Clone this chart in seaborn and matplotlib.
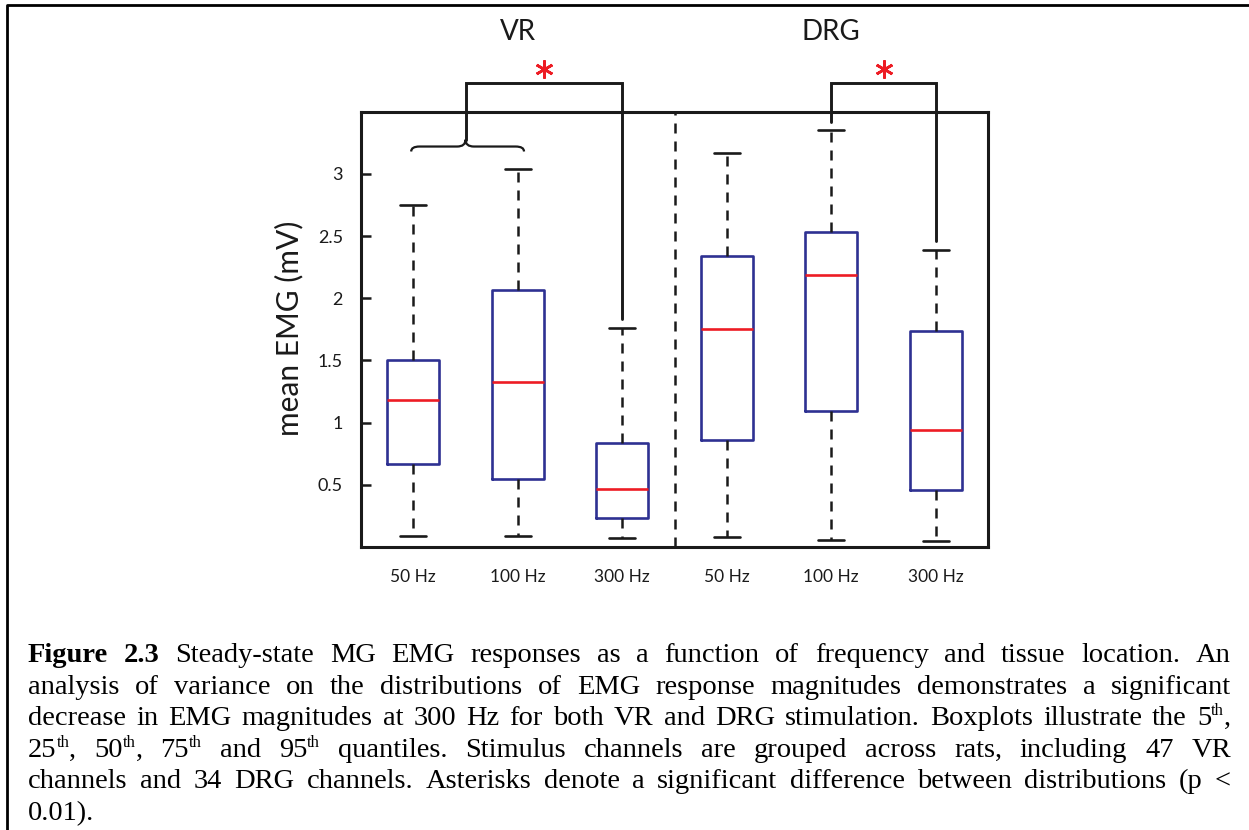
import matplotlib
matplotlib.use("Agg")
import numpy as np
import pandas as pd
import matplotlib.pyplot as plt
import seaborn as sns
from matplotlib.path import Path
from matplotlib.patches import PathPatch
from matplotlib.lines import Line2D

# ---------------- data ----------------
tissue = ["VR", "VR", "VR", "DRG", "DRG", "DRG"]
freq = ["50 Hz", "100 Hz", "300 Hz", "50 Hz", "100 Hz", "300 Hz"]
q05 = [0.09, 0.09, 0.07, 0.08, 0.055, 0.05]
q25 = [0.67, 0.55, 0.23, 0.86, 1.09, 0.46]
q50 = [1.18, 1.33, 0.47, 1.75, 2.19, 0.94]
q75 = [1.50, 2.07, 0.84, 2.34, 2.53, 1.74]
q95 = [2.75, 3.04, 1.76, 3.17, 3.35, 2.39]
yticks = [0.5, 1, 1.5, 2, 2.5, 3]

# significance comparisons: left arm (indices) vs right arm (index)
sig_left = [[0, 1], [4]]
sig_right = [2, 5]
bracket_y = 3.73
star_y = 3.84
brace_y = 3.22
title_y = 4.14

caption_lines = [
    "**Figure** **2.3** Steady-state MG EMG responses as a function of frequency and tissue location. An",
    "analysis of variance on the distributions of EMG response magnitudes demonstrates a significant",
    "decrease in EMG magnitudes at 300 Hz for both VR and DRG stimulation. Boxplots illustrate the 5{th},",
    "25{th}, 50{th}, 75{th} and 95{th} quantiles.  Stimulus channels are grouped across rats, including 47 VR",
    "channels and 34 DRG channels. Asterisks denote a significant difference between distributions (p <",
    "0.01).",
]

conditions = [f"{t} {f}" for t, f in zip(tissue, freq)]
rows = []
for c, a, b, m, d, e in zip(conditions, q05, q25, q50, q75, q95):
    for v in (a, b, m, d, e):
        rows.append({"condition": c, "emg": v})
df = pd.DataFrame(rows)

# ---------------- style ----------------
BLUE = "#2e3192"
RED = "#ed1c24"
INK = "#1a1a1a"
sns.set_theme(style="white")
plt.rcParams["font.family"] = ["Lato", "DejaVu Sans"]

W, H = 1249, 830
fig = plt.figure(figsize=(W / 100, H / 100), dpi=100)
ax = fig.add_axes([361 / W, 1 - 547 / H, (988 - 361) / W, (547 - 111.7) / H])

dash = (0, (4, 3.2))
sns.boxplot(
    data=df, x="condition", y="emg", order=conditions, ax=ax,
    whis=(0, 100), width=0.5, fill=False, color=BLUE, linewidth=1.8,
    showfliers=False,
    boxprops=dict(color=BLUE, linewidth=1.9),
    medianprops=dict(color=RED, linewidth=1.9),
    whiskerprops=dict(color=INK, linewidth=1.8, linestyle=dash),
    capprops=dict(color=INK, linewidth=1.9),
)

ax.set_xlim(-0.5, len(conditions) - 0.5)
ax.set_ylim(0, 3.5)
ax.set_yticks(yticks)
ax.set_yticklabels([f"{v:g}" for v in yticks])
ax.set_xticks(range(len(conditions)))
ax.set_xticklabels(freq)
ax.set_xlabel("")
ax.set_ylabel("")
ax.tick_params(axis="y", direction="in", length=7, width=1.8, pad=13,
               labelsize=13, colors=INK, left=True)
ax.tick_params(axis="x", length=0, pad=16, labelsize=12.5, colors=INK)
for sp in ax.spines.values():
    sp.set_visible(True)
    sp.set_color(INK)
    sp.set_linewidth(2.2)

# separator between tissue groups
ax.axvline(2.5, color=INK, lw=1.8, ls=dash, zorder=1)

# group titles
for g in ["VR", "DRG"]:
    idx = [i for i, t in enumerate(tissue) if t == g]
    ax.text(np.mean(idx), title_y, g, ha="center", va="center",
            fontsize=20, color=INK, clip_on=False)

# significance brackets
gap = 0.07
for left, right in zip(sig_left, sig_right):
    xl = float(np.mean(left))
    if len(left) > 1:
        a, b = min(left) - 0.02, max(left) + 0.06
        h, e, r = 0.055, 0.04, 0.08
        verts = [(a, brace_y - e), (a, brace_y), (a + r, brace_y),
                 (xl - r, brace_y), (xl, brace_y), (xl, brace_y + h),
                 (xl, brace_y), (xl + r, brace_y),
                 (b - r, brace_y), (b, brace_y), (b, brace_y - e)]
        codes = [Path.MOVETO, Path.CURVE3, Path.CURVE3,
                 Path.LINETO, Path.CURVE3, Path.CURVE3,
                 Path.CURVE3, Path.CURVE3,
                 Path.LINETO, Path.CURVE3, Path.CURVE3]
        ax.add_patch(PathPatch(Path(verts, codes), fill=False, lw=1.6,
                               edgecolor=INK, clip_on=False))
        yl = brace_y + h
    else:
        yl = q95[left[0]] + gap
    yr = q95[right] + gap
    ax.plot([xl, xl, right, right], [yl, bracket_y, bracket_y, yr],
            color=INK, lw=2.1, clip_on=False, solid_joinstyle="miter")
    ax.plot([(xl + right) / 2], [star_y], marker=(6, 2, 0), ms=13, mew=1.9,
            color=RED, clip_on=False)

# y label
fig.text(289 / W, 1 - 328 / H, "mean EMG (mV)", rotation=90, ha="center",
         va="center", fontsize=21.5, color=INK)

# figure frame (top + left)
fig.add_artist(Line2D([7 / W, 7 / W, 1.0], [0.0, 1 - 5 / H, 1 - 5 / H],
                      transform=fig.transFigure, color="black", lw=2.0))

# ---------------- justified caption ----------------
CAP_FS = 20.5
SERIF = ["Liberation Serif", "DejaVu Serif"]
renderer = fig.canvas.get_renderer()
x_left, x_right = 28.0, 1231.0
base0, pitch = 662.0, 31.6


def parse_word(w):
    segs = []
    bold = False
    i = 0
    buf = ""
    while i < len(w):
        if w.startswith("**", i):
            if buf:
                segs.append((buf, "b" if bold else "n"))
                buf = ""
            bold = not bold
            i += 2
        elif w[i] == "{":
            if buf:
                segs.append((buf, "b" if bold else "n"))
                buf = ""
            j = w.index("}", i)
            segs.append((w[i + 1:j], "s"))
            i = j + 1
        else:
            buf += w[i]
            i += 1
    if buf:
        segs.append((buf, "b" if bold else "n"))
    return segs


def make_text(s, style):
    kw = dict(fontfamily=SERIF, color="black", va="baseline", ha="left")
    if style == "b":
        kw.update(fontweight="bold", fontsize=CAP_FS)
    elif style == "s":
        kw.update(fontsize=CAP_FS * 0.58)
    else:
        kw.update(fontsize=CAP_FS)
    return fig.text(0, 0, s, **kw)


for li, line in enumerate(caption_lines):
    words = [parse_word(w) for w in line.split(" ") if w != ""]
    items = []
    total = 0.0
    for segs in words:
        arts = []
        wsum = 0.0
        for s, st in segs:
            t = make_text(s, st)
            wpx = t.get_window_extent(renderer).width
            arts.append((t, wpx, st))
            wsum += wpx
        items.append((arts, wsum))
        total += wsum
    if li < len(caption_lines) - 1 and len(items) > 1:
        space = (x_right - x_left - total) / (len(items) - 1)
    else:
        space = CAP_FS * 0.25 * 100 / 72
    x = x_left
    ybase = base0 + pitch * li
    for arts, wsum in items:
        for t, wpx, st in arts:
            yy = ybase - (CAP_FS * 0.36 * 100 / 72 if st == "s" else 0)
            t.set_position((x / W, 1 - yy / H))
            x += wpx
        x += space

fig.savefig("out.png", dpi=100)
